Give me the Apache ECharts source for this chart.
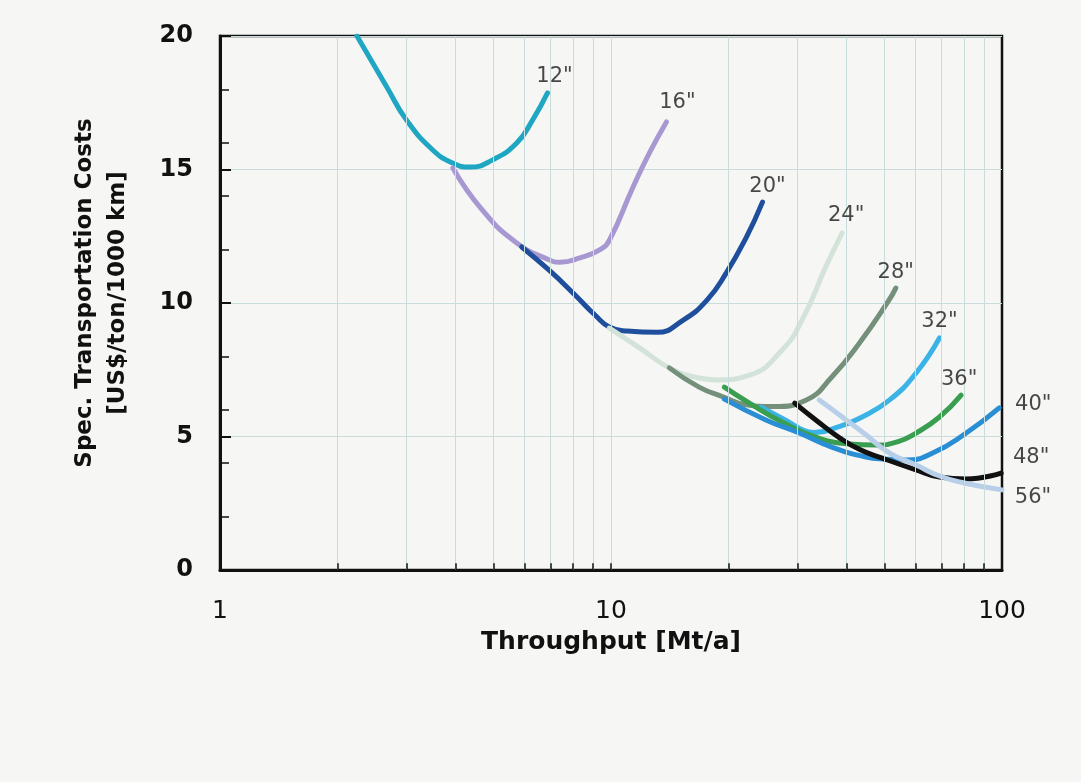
<!DOCTYPE html>
<html>
<head>
<meta charset="utf-8">
<script src="https://cdn.jsdelivr.net/npm/echarts@6/dist/echarts.min.js"></script>
<style>
html,body{margin:0;padding:0;background:#f6f6f4;}
#chart{width:1081px;height:782px;}
</style>
</head>
<body>
<div id="chart"></div>
<script>
// ---- data ----
const diameterLabels = ['12"', '16"', '20"', '24"', '28"', '32"', '36"', '40"', '48"', '56"'];
const yTicks = [0, 5, 10, 15, 20];
const xLabels = [1, 10, 100];
const xGridValues = [2, 3, 4, 5, 6, 7, 8, 9, 10, 20, 30, 40, 50, 60, 70, 80, 90];

// [throughput Mt/a, cost US$/ton/1000 km]
const d12 = [[2.24,20.0],[2.67,18.09],[3.0,16.85],[3.5,15.73],[3.94,15.24],[4.35,15.09],[4.98,15.36],[5.74,15.99],[6.3,16.85],[6.88,17.87]];
const d16 = [[3.94,15.06],[4.69,13.48],[5.74,12.25],[6.96,11.61],[7.39,11.53],[8.33,11.69],[9.35,11.99],[9.91,12.36],[11.35,14.3],[12.54,15.62],[13.86,16.78]];
const d20 = [[5.91,12.1],[6.98,11.2],[8.09,10.3],[9.1,9.55],[9.9,9.1],[11.0,8.95],[13.1,8.9],[15.3,9.36],[17.6,10.11],[19.7,11.12],[22.2,12.47],[24.4,13.78]];
const d24 = [[9.9,9.06],[11.86,8.31],[14.1,7.57],[16.8,7.19],[18.6,7.12],[22.6,7.3],[27.4,8.24],[31.0,9.44],[35.4,11.35],[39.0,12.62]];
const d28 = [[14.1,7.57],[16.8,6.85],[19.4,6.48],[22.0,6.2],[26.0,6.12],[31.6,6.37],[36.7,7.23],[43.2,8.5],[51.4,10.11],[53.5,10.56]];
const d32 = [[24.2,6.1],[27.9,5.62],[31.2,5.22],[33.0,5.15],[38.5,5.38],[43.5,5.7],[51.6,6.37],[60.3,7.38],[69.2,8.69]];
const d36 = [[19.5,6.85],[22.6,6.25],[27.4,5.54],[33.4,4.98],[40.7,4.72],[47.6,4.68],[54.0,4.8],[60.3,5.13],[69.2,5.73],[78.6,6.55]];
const d40 = [[19.5,6.4],[24.9,5.62],[30.3,5.13],[36.7,4.6],[44.9,4.23],[50.5,4.15],[56.9,4.12],[66.5,4.38],[81.0,5.13],[98.4,6.07]];
const d48 = [[29.5,6.25],[33.4,5.62],[38.5,4.94],[43.4,4.5],[49.4,4.19],[60.3,3.75],[69.2,3.48],[81.0,3.41],[99.5,3.63]];
const d56 = [[34.1,6.37],[38.5,5.8],[44.6,5.09],[51.6,4.38],[60.3,3.93],[69.2,3.52],[80.0,3.26],[100,3.0]];

// ---- styles ----
const curves = [d12, d16, d20, d24, d28, d32, d36, d40, d48, d56];
const colors = ['#1fa6c2', '#a898d2', '#1f4f9c', '#d3e3da', '#74907a', '#3cb3e6', '#3a9e50', '#2a8ed4', '#111111', '#b7cfe9'];
const labelOffsets = [[7,-16],[11,-19],[5,-16],[4,-17],[0,-16],[0,-16],[-2,-16],[34,-3],[30,-16],[31,8]];
const FONT = 'DejaVu Sans';

const series = [];
// vertical grid lines at log minor positions
series.push({
  type: 'line', data: [], z: 1, silent: true,
  markLine: {
    silent: true, animation: false, symbol: ['none', 'none'],
    label: { show: false }, emphasis: { disabled: true },
    lineStyle: { color: '#c9dcdc', width: 1, type: 'solid' },
    data: xGridValues.map(v => ({ xAxis: v }))
  }
});
// bottom axis ticks (inside)
series.push({
  type: 'line', data: [], z: 5, silent: true,
  markLine: {
    silent: true, animation: false, symbol: ['none', 'none'],
    label: { show: false }, emphasis: { disabled: true },
    lineStyle: { color: '#111', width: 1.5, type: 'solid' },
    data: xGridValues.map(v => [{ coord: [v, 0] }, { coord: [v, 0.25] }])
  }
});
curves.forEach((d, i) => {
  series.push({
    type: 'line', name: diameterLabels[i], data: d,
    smooth: 0.5, showSymbol: false, symbol: 'none', silent: true,
    lineStyle: { color: colors[i], width: 5, cap: 'round' },
    itemStyle: { color: colors[i] },
    z: 3
  });
});
series.push({
  type: 'scatter', silent: true, z: 10, symbolSize: 1,
  itemStyle: { color: 'rgba(0,0,0,0)' },
  label: { show: true, position: 'inside', formatter: '{b}', fontFamily: FONT, fontSize: 21, color: '#1a1a1a' },
  data: curves.map((d, i) => ({ value: d[d.length - 1], name: diameterLabels[i], label: { offset: labelOffsets[i] } }))
});

const chart = echarts.init(document.getElementById('chart'));
chart.setOption({
  animation: false,
  backgroundColor: '#f6f6f4',
  textStyle: { fontFamily: FONT },
  grid: { left: 220, right: 79, top: 36, bottom: 212, show: true, borderColor: '#111', borderWidth: 2.5, backgroundColor: 'transparent', outerBoundsMode: 'none' },
  xAxis: {
    type: 'log', logBase: 10, min: xLabels[0], max: xLabels[xLabels.length - 1],
    axisLine: { lineStyle: { color: '#111', width: 3 } },
    axisTick: { show: false }, splitLine: { show: false }, minorTick: { show: false },
    axisLabel: { fontFamily: FONT, fontSize: 25, color: '#111', margin: 29 },
    name: 'Throughput [Mt/a]', nameLocation: 'middle', nameGap: 60,
    nameTextStyle: { fontFamily: FONT, fontWeight: 'bold', fontSize: 25, color: '#111' }
  },
  yAxis: [{
    type: 'value', min: yTicks[0], max: yTicks[yTicks.length - 1], interval: 5,
    axisLine: { show: true, lineStyle: { color: '#111', width: 3 } },
    axisTick: { show: true, inside: true, length: 11, lineStyle: { color: '#111', width: 2 } },
    splitLine: { show: true, lineStyle: { color: '#c9dcdc', width: 1 } },
    axisLabel: { fontFamily: FONT, fontWeight: 'bold', fontSize: 24, color: '#111', margin: 27 },
    name: 'Spec. Transportation Costs\n[US$/ton/1000 km]', nameLocation: 'middle', nameGap: 85, nameRotate: 90,
    nameTextStyle: { fontFamily: FONT, fontWeight: 'bold', fontSize: 23, lineHeight: 33, color: '#111', padding: [0, 0, 0, 20] }
  }, {
    type: 'value', min: 0, max: 20, interval: 2, position: 'left',
    axisLine: { show: false }, axisLabel: { show: false }, splitLine: { show: false },
    axisTick: { show: true, inside: true, length: 9, lineStyle: { color: '#111', width: 1.5 } }
  }],
  series: series
});
</script>
</body>
</html>
